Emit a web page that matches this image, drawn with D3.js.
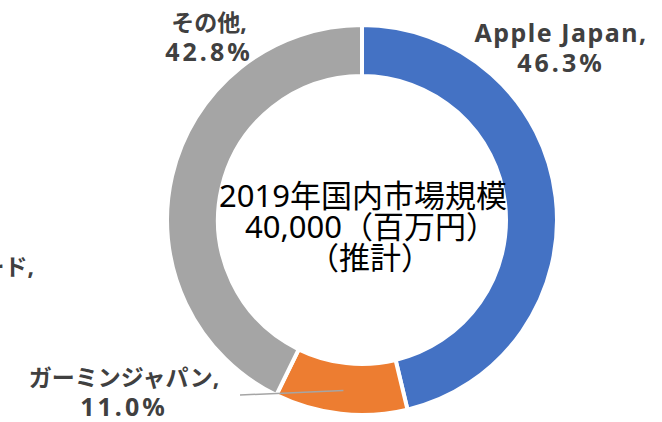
<!DOCTYPE html>
<html>
<head>
    <meta charset="utf-8">
    <title>2019年国内市場規模</title>
    <script src="https://d3js.org/d3.v7.min.js"></script>
    <style>
        body { margin: 0; background: #fff; }
        text { font-family: "Noto Sans", "Noto Sans CJK JP", sans-serif; }
    </style>
</head>
<body>
    <div id="chart"></div>
    <script>
// data
const names = ["Apple Japan", "ガーミンジャパン", "その他"];
const shares = [46.3, 11.0, 42.8];
const colors = ["#4472C4", "#ED7D31", "#A5A5A5"];
const centerLines = ["2019年国内市場規模", "40,000（百万円）", "（推計）"];
// label left outside the picture, only its tail is visible
const cutLabel = "ード,";

const width = 662, height = 422;
const cx = 362, cy = 220;
const gap = 4;

const svg = d3.select("#chart").append("svg")
    .attr("width", width).attr("height", height);

const g = svg.append("g").attr("transform", `translate(${cx},${cy})`);

const pie = d3.pie().sort(null).value(d => d);
const arcs = pie(shares);
const arc = d3.arc().innerRadius(146 - gap / 2).outerRadius(193 + gap / 2);

g.selectAll(".slice")
    .data(arcs)
    .enter().append("path")
    .attr("class", "slice")
    .attr("d", arc)
    .attr("fill", (d, i) => colors[i])
    .attr("stroke", "#fff")
    .attr("stroke-width", gap);

// center text (full-width brackets leave extra room on the right, nudge those lines)
const centerShift = [1, 9, 8];
g.selectAll(".center")
    .data(centerLines)
    .enter().append("text")
    .attr("class", "center")
    .attr("x", (d, i) => centerShift[i])
    .attr("y", (d, i) => -13 + i * 31)
    .attr("text-anchor", "middle")
    .attr("font-size", 31)
    .attr("fill", "#000")
    .text(d => d);

// data labels: center x and first baseline
const labelPos = [[561, 42], [124, 386], [209, 31]];
const isAscii = s => /^[\x00-\x7F]+$/.test(s);

names.forEach((name, i) => {
    const lines = [name + ",", shares[i].toFixed(1) + "%"];
    const t = svg.append("text")
        .attr("text-anchor", "middle")
        .attr("font-weight", "bold")
        .attr("fill", "#404040");
    lines.forEach((s, j) => {
        t.append("tspan")
            .attr("x", labelPos[i][0])
            .attr("y", labelPos[i][1] + j * 30)
            .attr("font-size", isAscii(s) ? 25 : 23)
            .attr("letter-spacing", isAscii(s) ? (j ? 3 : 1.5) : 0)
            .text(s);
    });
});

// leader line for the small slice
const c = arc.centroid(arcs[1]);
svg.append("line")
    .attr("x1", labelPos[1][0] + 116).attr("y1", labelPos[1][1] + 9)
    .attr("x2", cx + c[0]).attr("y2", cy + c[1] + 2)
    .attr("stroke", "#A5A5A5")
    .attr("stroke-width", 1.5);

svg.append("text")
    .attr("x", 34).attr("y", 275)
    .attr("text-anchor", "end")
    .attr("font-size", 23)
    .attr("font-weight", "bold")
    .attr("fill", "#404040")
    .text(cutLabel);
    </script>
</body>
</html>
